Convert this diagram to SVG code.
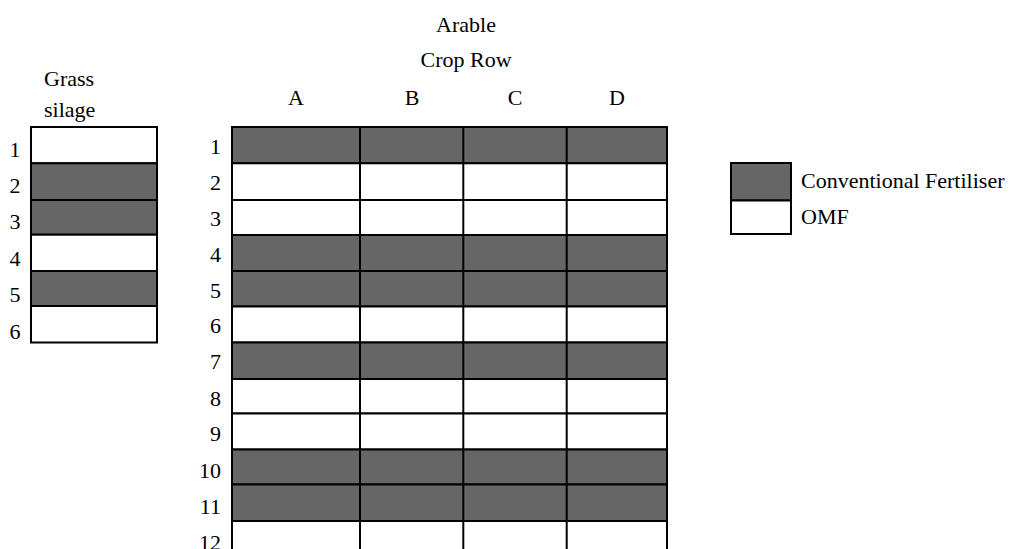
<svg xmlns="http://www.w3.org/2000/svg" width="1011" height="549" viewBox="0 0 1011 549">
<style>
text{font-family:"Liberation Serif","Times New Roman",serif;font-size:22px;fill:#000}
.d{fill:#666666;stroke:#000;stroke-width:2}
.w{fill:#fff;stroke:#000;stroke-width:2}
.n{text-anchor:middle}
.r{text-anchor:end}
</style>
<rect width="1011" height="549" fill="#fff"/>
<g id="grass">
<text x="44" y="86">Grass</text>
<text x="44" y="117">silage</text>
<rect class="w" x="31" y="127" width="126" height="36.3"/>
<rect class="d" x="31" y="163.3" width="126" height="36.7"/>
<rect class="d" x="31" y="200" width="126" height="34.7"/>
<rect class="w" x="31" y="234.7" width="126" height="36.3"/>
<rect class="d" x="31" y="271" width="126" height="35"/>
<rect class="w" x="31" y="306" width="126" height="36.5"/>
<g class="n">
<text x="15" y="157">1</text>
<text x="15" y="193">2</text>
<text x="15" y="229">3</text>
<text x="15" y="266">4</text>
<text x="15" y="302">5</text>
<text x="15" y="339">6</text>
</g>
</g>
<g id="arable">
<text class="n" x="466" y="32">Arable</text>
<text class="n" x="466" y="67">Crop Row</text>
<g class="n">
<text x="296" y="105">A</text>
<text x="412" y="105">B</text>
<text x="515" y="105">C</text>
<text x="617" y="105">D</text>
</g>
<g id="rows">
<rect class="d" x="232" y="127" width="435" height="36.3"/>
<rect class="w" x="232" y="163.3" width="435" height="36.7"/>
<rect class="w" x="232" y="200" width="435" height="35"/>
<rect class="d" x="232" y="235" width="435" height="36"/>
<rect class="d" x="232" y="271" width="435" height="35.5"/>
<rect class="w" x="232" y="306.5" width="435" height="36"/>
<rect class="d" x="232" y="342.5" width="435" height="36.5"/>
<rect class="w" x="232" y="379" width="435" height="34.5"/>
<rect class="w" x="232" y="413.5" width="435" height="36"/>
<rect class="d" x="232" y="449.5" width="435" height="35"/>
<rect class="d" x="232" y="484.5" width="435" height="36.5"/>
<rect class="w" x="232" y="521" width="435" height="40"/>
</g>
<g stroke="#000" stroke-width="2">
<line x1="360" y1="127" x2="360" y2="549"/>
<line x1="463.3" y1="127" x2="463.3" y2="549"/>
<line x1="566.7" y1="127" x2="566.7" y2="549"/>
</g>
<g class="r">
<text x="221" y="154">1</text>
<text x="221" y="190">2</text>
<text x="221" y="226">3</text>
<text x="221" y="262">4</text>
<text x="221" y="298">5</text>
<text x="221" y="333">6</text>
<text x="221" y="369">7</text>
<text x="221" y="406">8</text>
<text x="221" y="441">9</text>
<text x="221" y="478">10</text>
<text x="221" y="514">11</text>
<text x="221" y="550">12</text>
</g>
</g>
<g id="legend">
<rect class="d" x="731" y="163" width="60" height="37.5"/>
<rect class="w" x="731" y="200.5" width="60" height="33.5"/>
<text x="801" y="188">Conventional Fertiliser</text>
<text x="801" y="224">OMF</text>
</g>
</svg>
